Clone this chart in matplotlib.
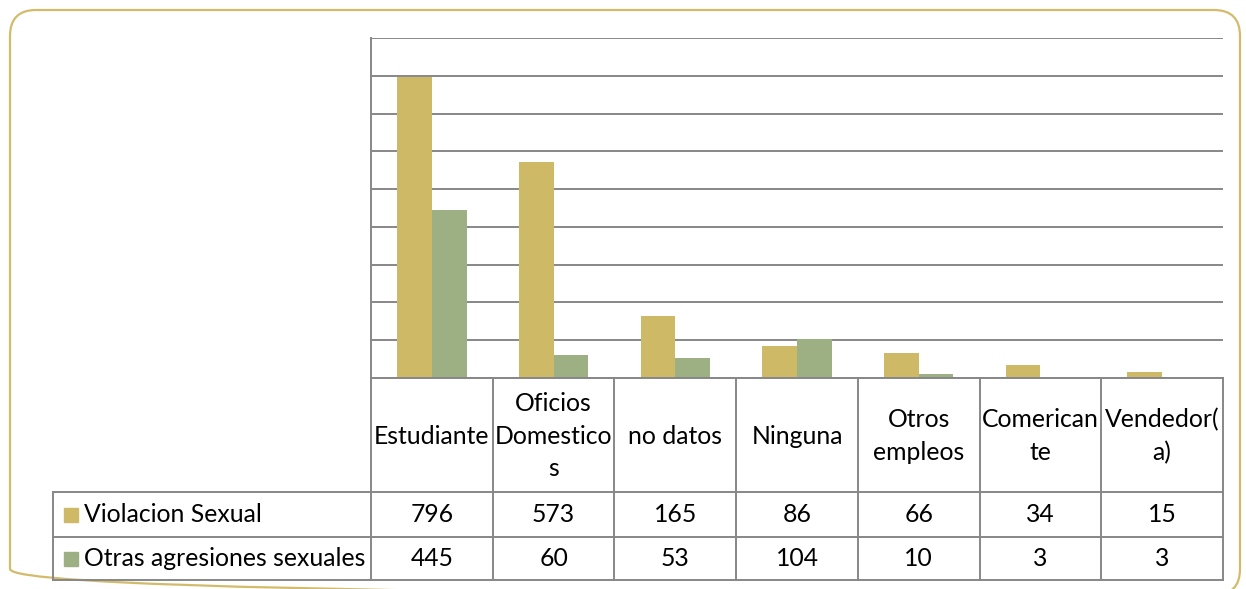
import matplotlib
matplotlib.use("Agg")
import matplotlib.pyplot as plt
from matplotlib.patches import FancyBboxPatch, Rectangle
import numpy as np

categories = ['Estudiante', 'Oficios Domesticos', 'no datos', 'Ninguna',
              'Otros empleos', 'Comericante', 'Vendedor(a)']
header_labels = ['Estudiante', 'Oficios\nDomestico\ns', 'no datos', 'Ninguna',
                 'Otros\nempleos', 'Comerican\nte', 'Vendedor(\na)']
series_names = ['Violacion Sexual', 'Otras agresiones sexuales']
violacion = [796, 573, 165, 86, 66, 34, 15]
otras = [445, 60, 53, 104, 10, 3, 3]

GOLD = '#CEB966'
GREEN = '#9CB084'
GRID = '#878787'
FONT = 'Lato'
FS = 17.8

W, H = 1246, 589
fig = plt.figure(figsize=(W / 100, H / 100), dpi=100)


def px_axes(x0, y0, x1, y1):
    # pixel box (top-left origin) -> axes
    return fig.add_axes([x0 / W, 1 - y1 / H, (x1 - x0) / W, (y1 - y0) / H])


# outer rounded frame, drawn on a full-figure pixel axes
bg = px_axes(0, 0, W, H)
bg.set_xlim(0, W)
bg.set_ylim(H, 0)
bg.axis('off')
bg.add_patch(FancyBboxPatch((10, 10), 1230, 585,
                            boxstyle='round,pad=0,rounding_size=26',
                            fill=False, edgecolor='#D2BC6C', linewidth=1.6,
                            clip_on=False))

# bar chart area
L, R, T, B = 371, 1223, 38, 378
ax = px_axes(L, T, R, B)
x = np.arange(len(categories))
bw = 0.285
ax.bar(x - bw / 2, violacion, bw, color=GOLD, zorder=3)
ax.bar(x + bw / 2, otras, bw, color=GREEN, zorder=3)
ax.set_xlim(-0.5, len(categories) - 0.5)
ax.set_ylim(0, 900)
ax.set_yticks(np.arange(0, 901, 100))
ax.yaxis.grid(True, color=GRID, linewidth=1.4)
ax.set_axisbelow(True)
ax.tick_params(left=False, bottom=False, labelleft=False, labelbottom=False)
for s in ['top', 'right', 'bottom']:
    ax.spines[s].set_visible(False)
ax.spines['left'].set_color(GRID)
ax.spines['left'].set_linewidth(1.4)
ax.patch.set_alpha(0)

# data table
TL = 53
rows_y = [378, 492, 537, 580]
tab = px_axes(TL, 378, R, 581)
tab.set_xlim(TL, R)
tab.set_ylim(581, 378)
tab.axis('off')
lw = 1.4
colw = (R - L) / len(categories)
bounds = [L + i * colw for i in range(len(categories) + 1)]
for yy in rows_y[1:]:
    tab.plot([TL, R], [yy, yy], color=GRID, lw=lw, clip_on=False)
tab.plot([L, R], [378, 378], color=GRID, lw=lw, clip_on=False)
for xx in bounds:
    tab.plot([xx, xx], [378, rows_y[-1]], color=GRID, lw=lw, clip_on=False)
tab.plot([TL, TL], [rows_y[1], rows_y[-1]], color=GRID, lw=lw, clip_on=False)

for i, lab in enumerate(header_labels):
    cx = (bounds[i] + bounds[i + 1]) / 2
    tab.text(cx, (rows_y[0] + rows_y[1]) / 2 + 1, lab, ha='center', va='center',
             fontsize=FS, family=FONT, linespacing=1.5, color='black')
for r, (vals, name, col) in enumerate(zip([violacion, otras], series_names, [GOLD, GREEN])):
    cy = (rows_y[r + 1] + rows_y[r + 2]) / 2
    for i, v in enumerate(vals):
        cx = (bounds[i] + bounds[i + 1]) / 2
        tab.text(cx, cy, str(v), ha='center', va='center', fontsize=FS,
                 family=FONT, color='black')
    tab.add_patch(Rectangle((64, cy - 7), 14, 14, color=col))
    tab.text(84, cy, name, ha='left', va='center', fontsize=FS, family=FONT,
             color='black')

fig.savefig('out.png', dpi=100)
